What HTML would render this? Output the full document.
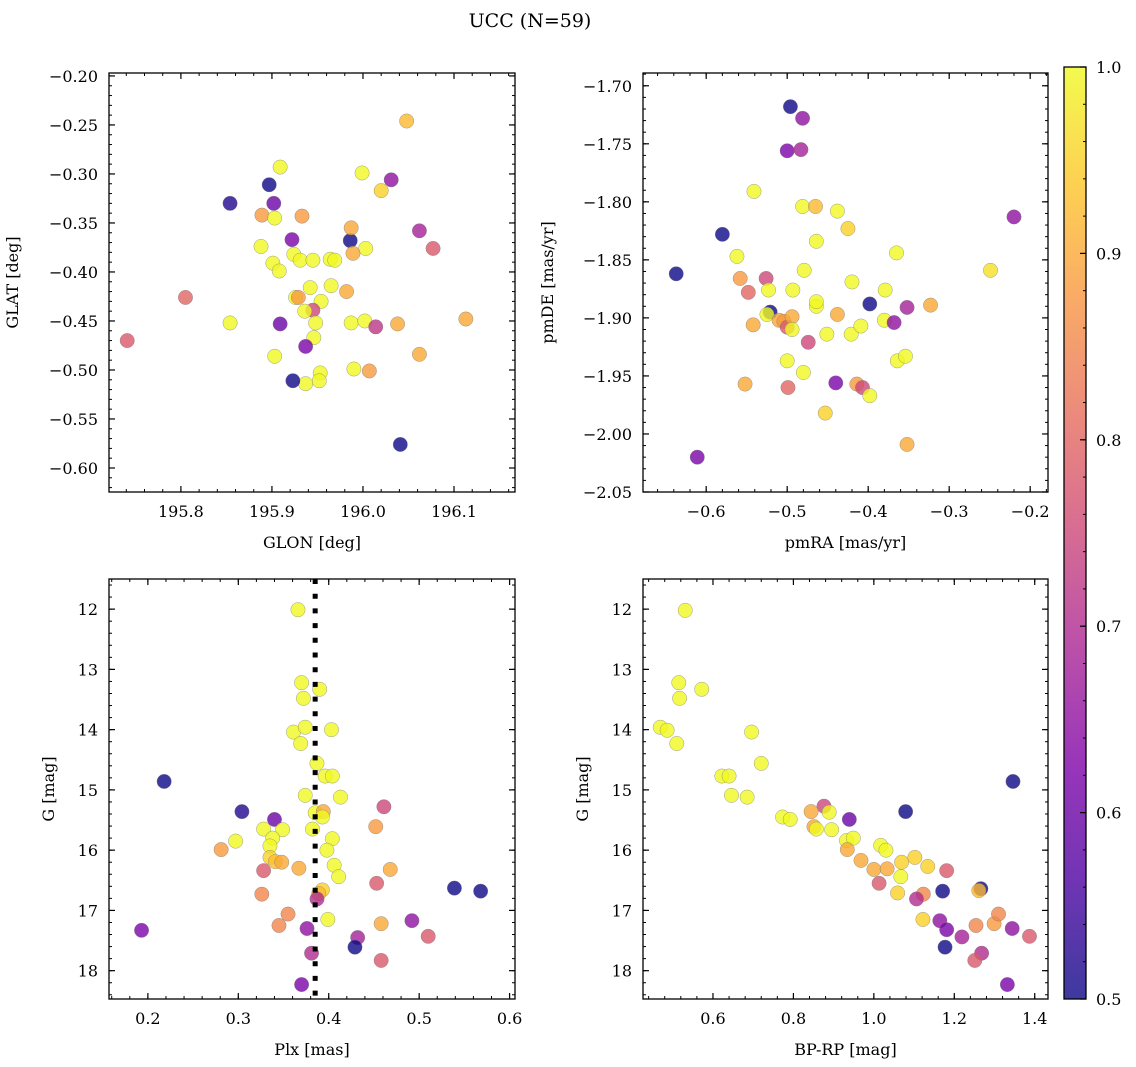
<!DOCTYPE html>
<html><head><meta charset="utf-8"><style>
html,body{margin:0;padding:0;background:#fff;}
svg{display:block;font-family:"DejaVu Serif","Liberation Serif",serif;}
</style></head><body>
<svg id="chart" width="1136" height="1067" viewBox="0 0 1136 1067" xmlns="http://www.w3.org/2000/svg">
<defs>
<linearGradient id="plasma" x1="0" y1="1" x2="0" y2="0">
<stop offset="0" stop-color="#0d0887"/><stop offset="0.125" stop-color="#4c02a1"/><stop offset="0.25" stop-color="#7e03a8"/><stop offset="0.375" stop-color="#a92395"/><stop offset="0.5" stop-color="#cc4778"/><stop offset="0.625" stop-color="#e66c5c"/><stop offset="0.75" stop-color="#f89540"/><stop offset="0.875" stop-color="#fdc527"/><stop offset="1" stop-color="#f0f921"/>
</linearGradient>
</defs>
<text x="530" y="27" font-size="19" text-anchor="middle">UCC (N=59)</text>
</svg>
<script>
// Panel 1: GLON / GLAT
const p1x=[196.048,195.909,195.854,195.897,195.902,195.999,196.020,196.031,196.062,196.077,195.805,195.741,195.854,195.889,195.903,195.933,195.888,195.922,195.986,195.987,196.003,195.901,195.908,195.924,195.931,195.945,195.964,195.969,195.989,195.965,195.982,195.942,195.954,195.926,195.945,195.936,195.909,195.948,195.987,196.002,196.014,196.038,196.113,195.946,195.937,195.903,196.062,195.953,195.952,195.990,196.007,195.937,195.923,196.041,195.929];
const p1y=[-0.246,-0.293,-0.330,-0.311,-0.330,-0.299,-0.317,-0.306,-0.358,-0.376,-0.426,-0.470,-0.452,-0.342,-0.345,-0.343,-0.374,-0.367,-0.368,-0.355,-0.376,-0.391,-0.399,-0.382,-0.388,-0.388,-0.387,-0.388,-0.381,-0.414,-0.420,-0.416,-0.430,-0.426,-0.439,-0.440,-0.453,-0.452,-0.452,-0.450,-0.456,-0.453,-0.448,-0.467,-0.476,-0.486,-0.484,-0.503,-0.511,-0.499,-0.501,-0.514,-0.511,-0.576,-0.426];
const p1c=[0.92,1,0.52,0.5,0.6,1,0.95,0.65,0.68,0.78,0.8,0.78,1,0.88,1,0.88,1,0.62,0.5,0.9,1,1,1,1,1,1,1,1,0.9,1,0.9,1,1,1,0.75,1,0.6,1,1,1,0.72,0.9,0.9,1,0.62,1,0.9,1,1,1,0.88,1,0.5,0.5,0.88];
// Panel 2: pmRA / pmDE
const p2x=[-0.496,-0.481,-0.500,-0.483,-0.541,-0.580,-0.220,-0.481,-0.465,-0.438,-0.464,-0.425,-0.637,-0.562,-0.479,-0.365,-0.249,-0.558,-0.548,-0.526,-0.523,-0.493,-0.464,-0.464,-0.420,-0.398,-0.379,-0.323,-0.521,-0.542,-0.525,-0.510,-0.504,-0.500,-0.494,-0.494,-0.474,-0.451,-0.438,-0.421,-0.409,-0.380,-0.368,-0.352,-0.364,-0.354,-0.500,-0.480,-0.552,-0.499,-0.440,-0.414,-0.407,-0.398,-0.453,-0.352,-0.611];
const p2y=[-1.718,-1.728,-1.756,-1.755,-1.791,-1.828,-1.813,-1.804,-1.804,-1.808,-1.834,-1.823,-1.862,-1.847,-1.859,-1.844,-1.859,-1.866,-1.878,-1.866,-1.876,-1.876,-1.890,-1.886,-1.869,-1.888,-1.876,-1.889,-1.895,-1.906,-1.897,-1.902,-1.903,-1.908,-1.899,-1.910,-1.921,-1.914,-1.897,-1.914,-1.907,-1.902,-1.904,-1.891,-1.937,-1.933,-1.937,-1.947,-1.957,-1.960,-1.956,-1.957,-1.960,-1.967,-1.982,-2.009,-2.020];
const p2c=[0.5,0.65,0.62,0.68,1,0.5,0.65,1,0.92,1,1,0.95,0.5,1,1,1,0.97,0.88,0.8,0.75,1,1,1,1,1,0.5,1,0.9,0.5,0.9,1,0.9,0.88,0.78,0.9,1,0.75,1,0.9,1,1,1,0.65,0.68,1,1,1,1,0.9,0.8,0.62,0.88,0.75,1,0.95,0.9,0.62];
// Panel 3: Plx / G
const p3x=[0.366,0.370,0.390,0.372,0.361,0.374,0.403,0.369,0.387,0.396,0.404,0.374,0.413,0.218,0.304,0.340,0.461,0.385,0.394,0.393,0.452,0.328,0.349,0.382,0.338,0.404,0.335,0.297,0.281,0.398,0.335,0.341,0.348,0.367,0.406,0.411,0.328,0.468,0.453,0.326,0.393,0.389,0.387,0.539,0.568,0.355,0.345,0.399,0.458,0.492,0.193,0.376,0.432,0.510,0.429,0.381,0.458,0.370];
const p3y=[12.01,13.22,13.33,13.48,14.04,13.96,14.00,14.23,14.56,14.77,14.77,15.09,15.12,14.86,15.36,15.49,15.28,15.38,15.36,15.45,15.61,15.65,15.66,15.65,15.80,15.81,15.93,15.85,15.99,16.00,16.12,16.19,16.20,16.30,16.25,16.44,16.34,16.32,16.55,16.73,16.66,16.72,16.81,16.63,16.68,17.06,17.25,17.15,17.22,17.17,17.33,17.30,17.45,17.43,17.61,17.71,17.83,18.23];
const p3c=[1,1,1,1,1,1,1,1,1,1,1,1,1,0.5,0.52,0.6,0.75,1,0.9,1,0.88,1,1,1,1,1,1,1,0.88,1,0.95,0.93,0.9,0.9,1,1,0.78,0.9,0.78,0.85,0.95,0.92,0.7,0.5,0.5,0.85,0.85,1,0.9,0.65,0.62,0.65,0.68,0.78,0.5,0.7,0.78,0.62];
// Panel 4: BP-RP / G
const p4x=[0.531,0.515,0.517,0.572,0.469,0.486,0.510,0.696,0.720,0.622,0.640,0.646,0.685,1.346,1.079,0.939,0.876,0.889,0.844,0.773,0.792,0.851,0.857,0.895,0.932,0.949,0.934,1.017,1.030,0.968,1.000,1.033,1.069,1.102,1.134,1.181,1.013,1.067,1.059,1.123,1.106,1.171,1.266,1.261,1.122,1.164,1.181,1.219,1.254,1.299,1.310,1.344,1.387,1.177,1.268,1.251,1.332];
const p4y=[12.02,13.22,13.48,13.33,13.96,14.01,14.23,14.04,14.56,14.77,14.77,15.09,15.12,14.86,15.36,15.49,15.27,15.37,15.36,15.45,15.49,15.61,15.65,15.66,15.84,15.80,15.99,15.92,16.00,16.17,16.32,16.31,16.20,16.12,16.27,16.34,16.55,16.44,16.71,16.73,16.81,16.68,16.64,16.67,17.15,17.17,17.32,17.44,17.25,17.22,17.06,17.30,17.43,17.61,17.71,17.83,18.23];
const p4c=[1,1,1,1,1,1,1,1,1,1,1,1,1,0.5,0.5,0.6,0.75,1,0.9,1,1,0.9,1,1,1,1,0.9,1,1,0.9,0.9,0.9,0.95,0.95,0.95,0.78,0.78,1,0.95,0.85,0.7,0.5,0.5,0.92,0.95,0.65,0.62,0.68,0.85,0.88,0.85,0.65,0.78,0.5,0.7,0.78,0.62];
// tick labels
const p1xTicks=[195.8,195.9,196.0,196.1];
const p1yTicks=[-0.20,-0.25,-0.30,-0.35,-0.40,-0.45,-0.50,-0.55,-0.60];
const p2xTicks=[-0.6,-0.5,-0.4,-0.3,-0.2];
const p2yTicks=[-1.70,-1.75,-1.80,-1.85,-1.90,-1.95,-2.00,-2.05];
const p3xTicks=[0.2,0.3,0.4,0.5,0.6];
const gTicks=[12,13,14,15,16,17,18];
const p4xTicks=[0.6,0.8,1.0,1.2,1.4];
const cbTicks=[0.5,0.6,0.7,0.8,0.9,1.0];
const plxLine=0.385;

const NS="http://www.w3.org/2000/svg";
const svg=document.getElementById('chart');
function mk(tag,attrs,parent){const e=document.createElementNS(NS,tag);for(const k in attrs)e.setAttribute(k,attrs[k]);(parent||svg).appendChild(e);return e;}
const stops=[[13,8,135],[76,2,161],[126,3,168],[169,35,149],[204,71,120],[230,108,92],[248,149,64],[253,197,39],[240,249,33]];
function plasma(c){let t=Math.max(0,Math.min(1,(c-0.5)/0.5))*8;const i=Math.min(7,Math.floor(t));const f=t-i;const a=stops[i],b=stops[i+1];
return 'rgb('+a.map((v,k)=>Math.round(v+(b[k]-v)*f)).join(',')+')';}

function panel(name,L,T,R,B,xmin,xmax,ymin,ymax,invY,xt,yt,xminor,yminor,xdec,ydec,xs,ys,cs,xlab,ylab,xlabX,ylabX){
  const g=mk('g',{});
  
  
  const sx=v=>L+(v-xmin)/(xmax-xmin)*(R-L);
  const sy=v=>invY?T+(v-ymin)/(ymax-ymin)*(B-T):B-(v-ymin)/(ymax-ymin)*(B-T);
  // minor ticks
  const start=Math.ceil(xmin/xminor-1e-6);
  for(let k=start;k*xminor<=xmax+1e-9;k++){const x=sx(k*xminor);
    mk('line',{x1:x,x2:x,y1:B,y2:B-3,stroke:'#000','stroke-width':1},g);mk('line',{x1:x,x2:x,y1:T,y2:T+3,stroke:'#000','stroke-width':1},g);}
  const ys0=Math.ceil(Math.min(ymin,ymax)/yminor-1e-6);
  for(let k=ys0;k*yminor<=Math.max(ymin,ymax)+1e-9;k++){const y=sy(k*yminor);
    mk('line',{x1:L,x2:L+3,y1:y,y2:y,stroke:'#000','stroke-width':1},g);mk('line',{x1:R,x2:R-3,y1:y,y2:y,stroke:'#000','stroke-width':1},g);}
  xt.forEach(v=>{const x=sx(v);
    mk('line',{x1:x,x2:x,y1:B,y2:B-6,stroke:'#000','stroke-width':1.2},g);mk('line',{x1:x,x2:x,y1:T,y2:T+6,stroke:'#000','stroke-width':1.2},g);
    const t=mk('text',{x:x,y:B+25,'font-size':16,'text-anchor':'middle'},g);t.textContent=v.toFixed(xdec).replace('-','\u2212');
    
    });
  yt.forEach(v=>{const y=sy(v);
    mk('line',{x1:L,x2:L+6,y1:y,y2:y,stroke:'#000','stroke-width':1.2},g);mk('line',{x1:R,x2:R-6,y1:y,y2:y,stroke:'#000','stroke-width':1.2},g);
    const t=mk('text',{x:L-11,y:y+6,'font-size':16,'text-anchor':'end'},g);t.textContent=v.toFixed(ydec).replace('-','\u2212');
    
    });
  const xl=mk('text',{x:(L+R)/2,y:B+56,'font-size':16,'text-anchor':'middle'},g);xl.textContent=xlab;
  
  
  const yl=mk('text',{x:ylabX,y:(T+B)/2,'font-size':16,'text-anchor':'middle',transform:'rotate(-90 '+ylabX+' '+(T+B)/2+')'},g);yl.textContent=ylab;
  
  
  const pts=mk('g',{},g);
  for(let i=0;i<xs.length;i++){
    const c=mk('circle',{cx:sx(xs[i]),cy:sy(ys[i]),r:7.2,fill:plasma(cs[i]),'fill-opacity':0.8,stroke:'#777','stroke-width':0.5,'stroke-opacity':0.7},pts);
    
    
  }
  const fr=mk('rect',{x:L,y:T,width:R-L,height:B-T,fill:'none',stroke:'#000','stroke-width':1.3},g);
  
  
  return {sx,sy,g};
}
panel('glon-glat-panel',109,73,515,492,195.721,196.167,-0.6245,-0.197,false,p1xTicks,p1yTicks,0.02,0.01,1,2,p1x,p1y,p1c,'GLON [deg]','GLAT [deg]',0,18);
panel('pm-panel',643,73,1048,492,-0.678,-0.178,-2.050,-1.689,false,p2xTicks,p2yTicks,0.02,0.01,1,2,p2x,p2y,p2c,'pmRA [mas/yr]','pmDE [mas/yr]',0,553);
const p3=panel('plx-g-panel',109,579,515,999,0.157,0.606,11.50,18.47,true,p3xTicks,gTicks,0.02,0.2,1,0,p3x,p3y,p3c,'Plx [mas]','G [mag]',0,54);
const lx=p3.sx(plxLine);
const dl=mk('line',{x1:lx,x2:lx,y1:579,y2:999,stroke:'#000','stroke-width':5,'stroke-dasharray':'5 9.7'});


panel('cmd-panel',643,579,1048,999,0.426,1.433,11.50,18.47,true,p4xTicks,gTicks,0.04,0.2,1,0,p4x,p4y,p4c,'BP-RP [mag]','G [mag]',0,588);
// colorbar
const cb=mk('g',{});


mk('rect',{x:1064,y:67,width:22,height:932,fill:'url(#plasma)','fill-opacity':0.8},cb);
mk('rect',{x:1064,y:67,width:22,height:932,fill:'none',stroke:'#000','stroke-width':1.3},cb);
const cy=v=>999-(v-0.5)/0.5*932;
for(let k=50;k<=100;k+=2){const y=cy(k/100);mk('line',{x1:1086,x2:1083,y1:y,y2:y,stroke:'#000','stroke-width':1},cb);}
cbTicks.forEach(v=>{const y=cy(v);mk('line',{x1:1086,x2:1080,y1:y,y2:y,stroke:'#000','stroke-width':1.2},cb);
  const t=mk('text',{x:1096,y:y+6,'font-size':16},cb);t.textContent=v.toFixed(1);
  
  });
</script>
</body></html>
